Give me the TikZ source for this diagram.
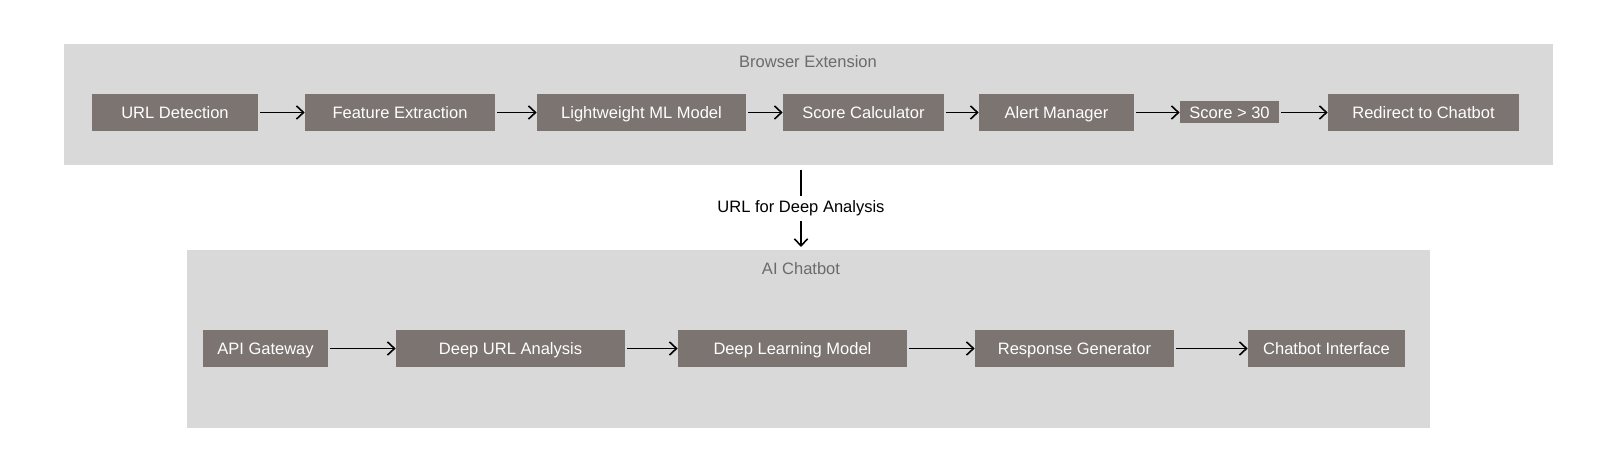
\documentclass[tikz,border=0pt]{standalone}
\usepackage{fontspec}
\setmainfont{Liberation Sans}
\usepackage{tikz}
\usetikzlibrary{arrows.meta}

\definecolor{panelgray}{HTML}{D9D9D9}
\definecolor{boxgray}{HTML}{7B7471}
\definecolor{titlegray}{HTML}{6B6B6B}

\tikzset{
    stage/.style={fill=boxgray, text=white, inner sep=0pt, minimum height=37*0.02cm, text height=8pt, text depth=1pt, font=\fontsize{9.4}{11}\selectfont},
    ptitle/.style={text=titlegray, font=\fontsize{9.4}{11}\selectfont},
    flow/.style={-{Straight Barb[length=4pt,width=7.5pt]}, line width=0.9pt, shorten <=2*0.02cm},
}

\begin{document}
\begin{tikzpicture}[x=0.02cm,y=-0.02cm]
    \useasboundingbox (0,0) rectangle (1617,472);

    % Draw the two panels
    \fill[panelgray] (64,44) rectangle (1553,165);
    \fill[panelgray] (187,250) rectangle (1430,428);
    \node[ptitle] (bext) at (808,62) {Browser Extension};
    \node[ptitle] (aibot) at (801,269) {AI Chatbot};

    % Draw the extension stages
    \foreach \n/\x/\w/\t in {url/175/166/URL Detection, feat/400/190/Feature Extraction, lite/641.5/209/Lightweight ML Model, score/863.5/161/Score Calculator, alert/1056.5/155/Alert Manager, redir/1423.5/191/Redirect to Chatbot} {
        \node[stage, minimum width=\w*0.02cm] (\n) at (\x,112.5) {\t};
    }
    \node[stage, minimum width=99*0.02cm, minimum height=22*0.02cm] (thr) at (1229.5,112.5) {Score > 30};

    % Draw the chatbot stages
    \foreach \n/\x/\w/\t in {api/265.5/125/API Gateway, deep/510.5/229/Deep URL Analysis, dlm/792.5/229/Deep Learning Model, resp/1074.5/199/Response Generator, chat/1326.5/157/Chatbot Interface} {
        \node[stage, minimum width=\w*0.02cm] (\n) at (\x,348.5) {\t};
    }

    % Draw the arrows between stages
    \foreach \a/\b in {url/feat, feat/lite, lite/score, score/alert, alert/thr, thr/redir, api/deep, deep/dlm, dlm/resp, resp/chat} {
        \draw[flow] (\a) -- (\b);
    }

    % Hand over from extension to chatbot
    \coordinate (up) at (801,170);
    \coordinate (down) at (801,247);
    \draw[flow, shorten <=0pt] (up) -- node[fill=white, text=black, inner sep=3pt, font=\fontsize{9.4}{11}\selectfont] (handoff) {URL for Deep Analysis} (down);

\end{tikzpicture}
\end{document}
